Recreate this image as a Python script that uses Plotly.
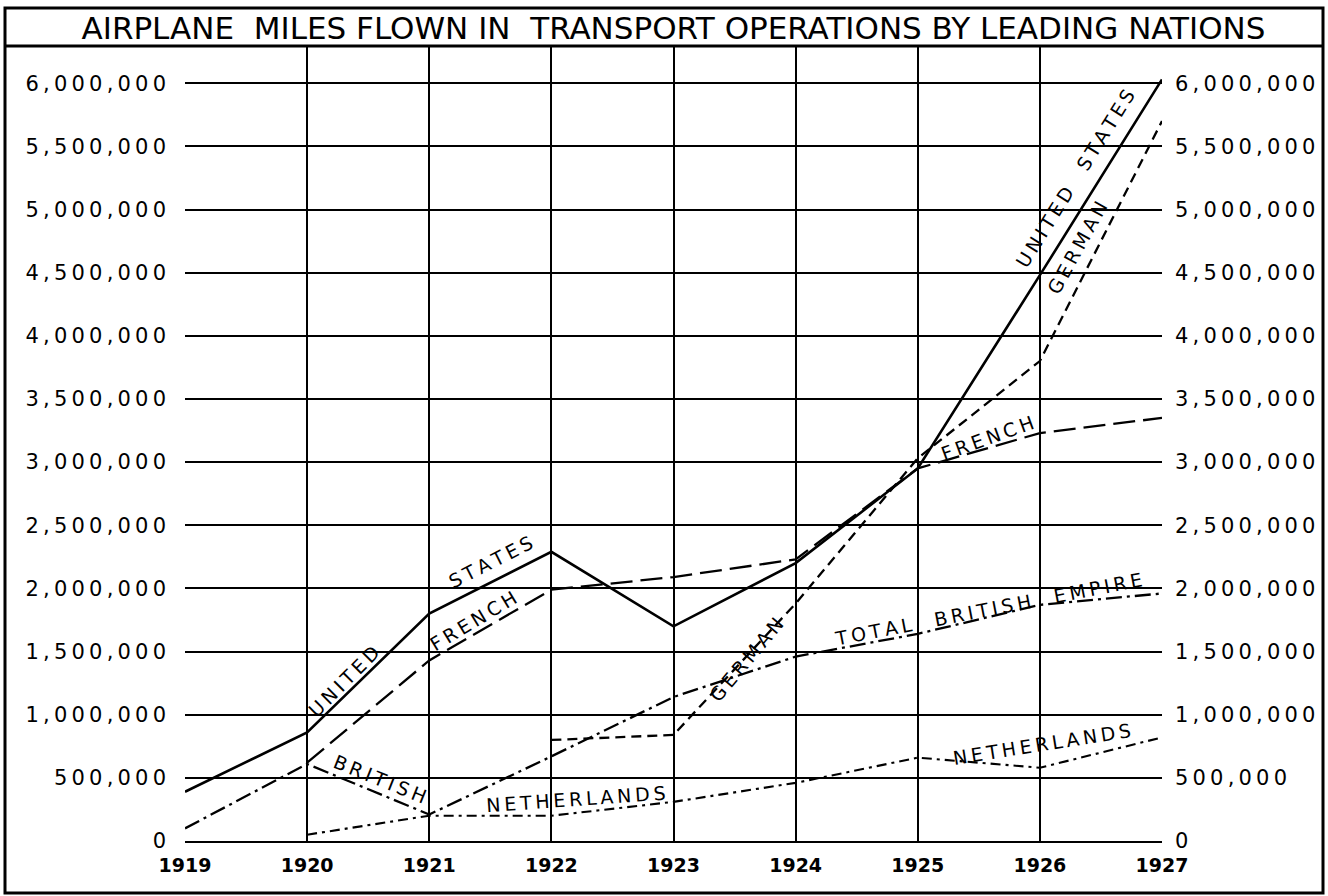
import plotly.graph_objects as go

# ---- data ----
years = [1919, 1920, 1921, 1922, 1923, 1924, 1925, 1926, 1927]
united_states = [390000, 860000, 1800000, 2290000, 1700000, 2200000, 2950000, 4480000, 6030000]
french = [None, 620000, 1430000, 1990000, 2090000, 2230000, 2950000, 3230000, 3350000]
german = [None, None, None, 800000, 840000, 1880000, 3030000, 3800000, 5700000]
british = [100000, 610000, 210000, 670000, 1140000, 1460000, 1640000, 1870000, 1960000]
netherlands = [None, 50000, 200000, 200000, 310000, 460000, 660000, 580000, 820000]

y_ticks = [0, 500000, 1000000, 1500000, 2000000, 2500000, 3000000,
           3500000, 4000000, 4500000, 5000000, 5500000, 6000000]
x_ticks = years

title_text = "AIRPLANE  MILES FLOWN IN  TRANSPORT OPERATIONS BY LEADING NATIONS"

# line labels: (text, year, value, angle)
line_labels = [
    ("UNITED", 1920.30, 1270000, -45),
    ("STATES", 1921.50, 2210000, -27),
    ("FRENCH", 1921.36, 1740000, -31),
    ("BRITISH", 1920.60, 490000, 22),
    ("NETHERLANDS", 1922.20, 330000, -4),
    ("GERMAN", 1923.60, 1440000, -50),
    ("TOTAL  BRITISH  EMPIRE", 1925.58, 1840000, -11),
    ("FRENCH", 1925.57, 3190000, -20),
    ("NETHERLANDS", 1926.02, 770000, -9),
    ("UNITED  STATES", 1926.29, 5250000, -58),
    ("GERMAN", 1926.31, 4700000, -61),
]

FONT = "DejaVu Sans"
THIN = "\u2009"


def spaced(s):
    return THIN.join(s)


W, H = 1328, 896
L, R, T, B = 185, 166, 46, 55
plot_w = W - L - R
plot_h = H - T - B
y_top = 1e6 * (841 - 46) / 126.3


def px_x(px):
    return (px - L) / plot_w


def px_y(py):
    return (H - B - py) / plot_h


fig = go.Figure()

fig.add_trace(go.Scatter(x=years, y=united_states, mode="lines", name="United States",
                         line=dict(color="black", width=2.6)))
fig.add_trace(go.Scatter(x=years, y=french, mode="lines", name="French",
                         line=dict(color="black", width=2.3, dash="22px,8px")))
fig.add_trace(go.Scatter(x=years, y=german, mode="lines", name="German",
                         line=dict(color="black", width=2.3, dash="10px,6px")))
fig.add_trace(go.Scatter(x=years, y=british, mode="lines", name="British",
                         line=dict(color="black", width=2.3, dash="16px,5px,3px,5px")))
fig.add_trace(go.Scatter(x=years, y=netherlands, mode="lines", name="Netherlands",
                         yaxis="y2",
                         line=dict(color="black", width=2.1, dash="10px,5px,3px,5px")))

for text, x, y, ang in line_labels:
    fig.add_annotation(x=x, y=y, xref="x", yref="y", text=spaced(text),
                       textangle=ang, showarrow=False,
                       font=dict(family=FONT, size=19, color="black"))

tick_text = [spaced(f"{v:,}") for v in y_ticks]

axis_y = dict(range=[0, y_top], tickvals=y_ticks, ticktext=tick_text,
              showgrid=True, gridcolor="black", gridwidth=2,
              zeroline=False, showline=False, ticks="",
              tickfont=dict(family=FONT, size=21, color="black"),
              fixedrange=True)

fig.update_layout(
    width=W, height=H,
    margin=dict(l=L, r=R, t=T, b=B),
    paper_bgcolor="white", plot_bgcolor="white",
    showlegend=False,
    title=dict(text=title_text, x=0.5, xanchor="center", y=1 - 28 / H,
               yanchor="middle", xref="paper",
               font=dict(family=FONT, size=31, color="black")),
    xaxis=dict(range=[1919, 1927], tickvals=x_ticks, ticktext=[str(v) for v in x_ticks],
               showgrid=True, gridcolor="black", gridwidth=2, zeroline=False,
               showline=True, linecolor="black", linewidth=2, ticks="",
               ticklabelstandoff=6, fixedrange=True,
               tickfont=dict(family=FONT, size=19, color="black", weight="bold")),
    yaxis=dict(**axis_y, ticklabelstandoff=18),
    yaxis2=dict(**axis_y, overlaying="y", side="right", ticklabelstandoff=12),
)
fig.update_layout(yaxis2=dict(showgrid=False))

# outer border and the line under the title
fig.add_shape(type="rect", xref="paper", yref="paper",
              x0=px_x(5), x1=px_x(1323), y0=px_y(893), y1=px_y(8),
              line=dict(color="black", width=3))
fig.add_shape(type="line", xref="paper", yref="paper",
              x0=px_x(5), x1=px_x(1323), y0=px_y(46), y1=px_y(46),
              line=dict(color="black", width=3))

fig.write_html(
    "out.html",
    config={"displayModeBar": False},
    post_script="document.body.style.margin='0';document.body.style.overflow='hidden';",
)
